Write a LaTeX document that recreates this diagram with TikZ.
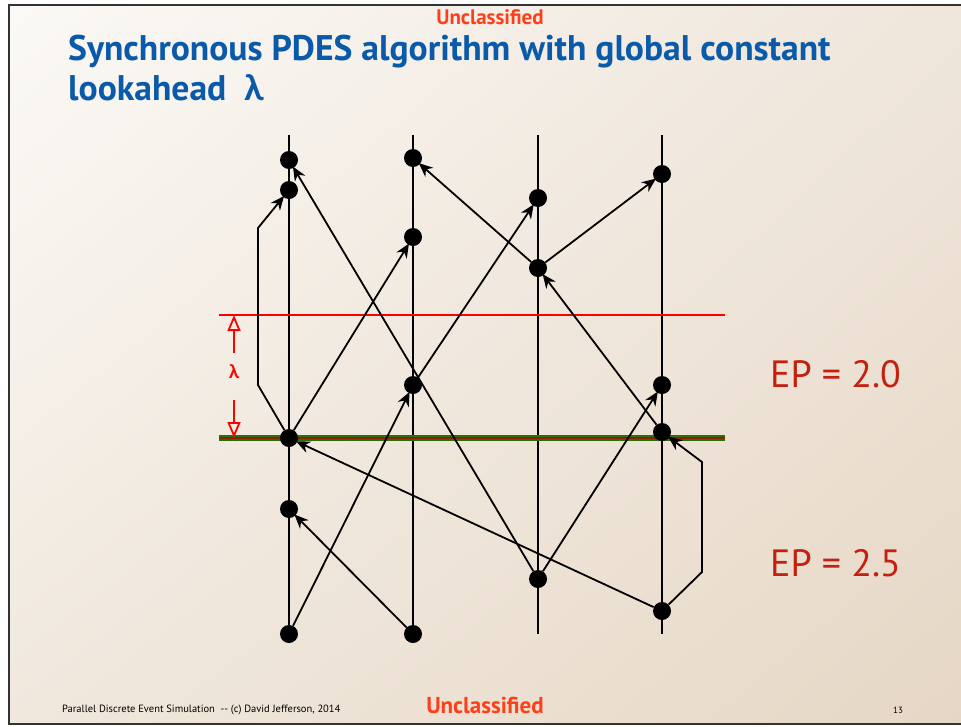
\documentclass[tikz,border=0pt]{standalone}
\usepackage{fontspec}
\setmainfont{PT Sans}
\newfontfamily\grk{Lato}
\usetikzlibrary{arrows.meta,shadings}
\definecolor{ttlblue}{HTML}{0A5AAA}
\definecolor{unclass}{HTML}{FF3F1A}
\definecolor{epred}{HTML}{C42010}
\definecolor{gvtgreen}{HTML}{2E6E0A}
\definecolor{gvtred}{HTML}{8C2000}
\definecolor{bgul}{RGB}{251,249,246}
\definecolor{bgur}{RGB}{239,230,219}
\definecolor{bgll}{RGB}{240,232,221}
\definecolor{bglr}{RGB}{230,215,197}
\begin{document}
\begin{tikzpicture}[x=1pt,y=-1pt,
  dot/.style={circle,fill=black,inner sep=0pt,minimum size=18pt},
  msg/.style={line width=1.8pt,-{Stealth[length=14pt,width=12pt,inset=4.5pt]},shorten >=-1.5pt},
  tline/.style={line width=1.8pt},
  lam/.style={red,line width=1.8pt,-{Triangle[open,length=16pt,width=13pt]}}]
\useasboundingbox (0,0) rectangle (961,726);
\fill[white] (0,0) rectangle (961,726);
\shade[upper left=bgul,upper right=bgur,lower left=bgll,lower right=bglr]
  (9,5) rectangle (961,724);
\draw[line width=2pt,black!80] (962,5) -- (9,5) -- (9,724) -- (962,724);

% header texts
\node[anchor=base,text=unclass,font=\bfseries\fontsize{21}{22}\selectfont,inner sep=0] (u1) at (490,24) {Unclassified};
\node[anchor=base west,text=ttlblue,font=\bfseries\fontsize{35.6}{40}\selectfont,inner sep=0] (t1) at (68,60) {Synchronous PDES algorithm with global constant};
\node[anchor=base west,text=ttlblue,font=\bfseries\fontsize{35.6}{40}\selectfont,inner sep=0] (t2) at (68,100) {lookahead\ \ {\grk λ}};

% time lines
\foreach \n/\x in {1/289,2/413,3/538,4/662}{
  \coordinate (top\n) at (\x,135);
  \coordinate (bot\n) at (\x,634);
  \draw[tline] (top\n) -- (bot\n);
}

% EP lines
\coordinate (r1) at (219,315); \coordinate (r2) at (725,315);
\draw[red,line width=1.6pt] (r1) -- (r2);
\coordinate (g1) at (219,438); \coordinate (g2) at (725,438);
\draw[gvtgreen,line width=5.5pt] (g1) -- (g2);
\draw[gvtred,line width=2pt] (g1) -- (g2);

% events
\node[dot] (a1) at (289,160) {};
\node[dot] (a2) at (289,190) {};
\node[dot] (a3) at (289,438) {};
\node[dot] (a4) at (289,509) {};
\node[dot] (a5) at (289,634) {};
\node[dot] (b1) at (413,158) {};
\node[dot] (b2) at (413,237) {};
\node[dot] (b3) at (413,385) {};
\node[dot] (b4) at (413,634) {};
\node[dot] (c1) at (538,198) {};
\node[dot] (c2) at (538,268) {};
\node[dot] (c3) at (538,579) {};
\node[dot] (d1) at (662,174) {};
\node[dot] (d2) at (662,385) {};
\node[dot] (d3) at (662,432) {};
\node[dot] (d4) at (662,611) {};

% messages
\coordinate (k1) at (258,385); \coordinate (k2) at (258,228);
\draw[msg] (a3) -- (k1) -- (k2) -- (a2);
\coordinate (k3) at (702,572); \coordinate (k4) at (702,462);
\draw[msg] (d4) -- (k3) -- (k4) -- (d3);
\draw[msg] (c3) -- (a1);
\draw[msg] (a3) -- (b2);
\draw[msg] (a5) -- (b3);
\draw[msg] (b3) -- (c1);
\draw[msg] (c2) -- (b1);
\draw[msg] (c2) -- (d1);
\draw[msg] (d3) -- (c2);
\draw[msg] (c3) -- (d2);
\draw[msg] (d4) -- (a3);
\draw[msg] (b4) -- (a4);

% lambda dimension
\coordinate (l1) at (234,353); \coordinate (l2) at (234,315);
\coordinate (l3) at (234,400); \coordinate (l4) at (234,438);
\draw[lam] (l1) -- (l2);
\draw[lam] (l3) -- (l4);
\node[text=red,font=\grk\bfseries\fontsize{19}{20}\selectfont,inner sep=0] (lamlbl) at (234,372) {λ};

% EP labels
\node[anchor=base west,text=epred,font=\fontsize{38}{40}\selectfont,inner sep=0] (ep1) at (770,387) {EP = 2.0};
\node[anchor=base west,text=epred,font=\fontsize{38}{40}\selectfont,inner sep=0] (ep2) at (770,576) {EP = 2.5};

% footer
\node[anchor=base west,font=\fontsize{10.5}{11}\selectfont,inner sep=0] (ft) at (62,712) {Parallel Discrete Event Simulation\ \ -{}- (c) David Jefferson, 2014};
\node[anchor=base,text=unclass,font=\bfseries\fontsize{23}{24}\selectfont,inner sep=0] (u2) at (485,713) {Unclassified};
\node[anchor=base,font=\fontsize{9}{10}\selectfont,inner sep=0] (pg) at (898,713) {13};
\end{tikzpicture}
\end{document}
